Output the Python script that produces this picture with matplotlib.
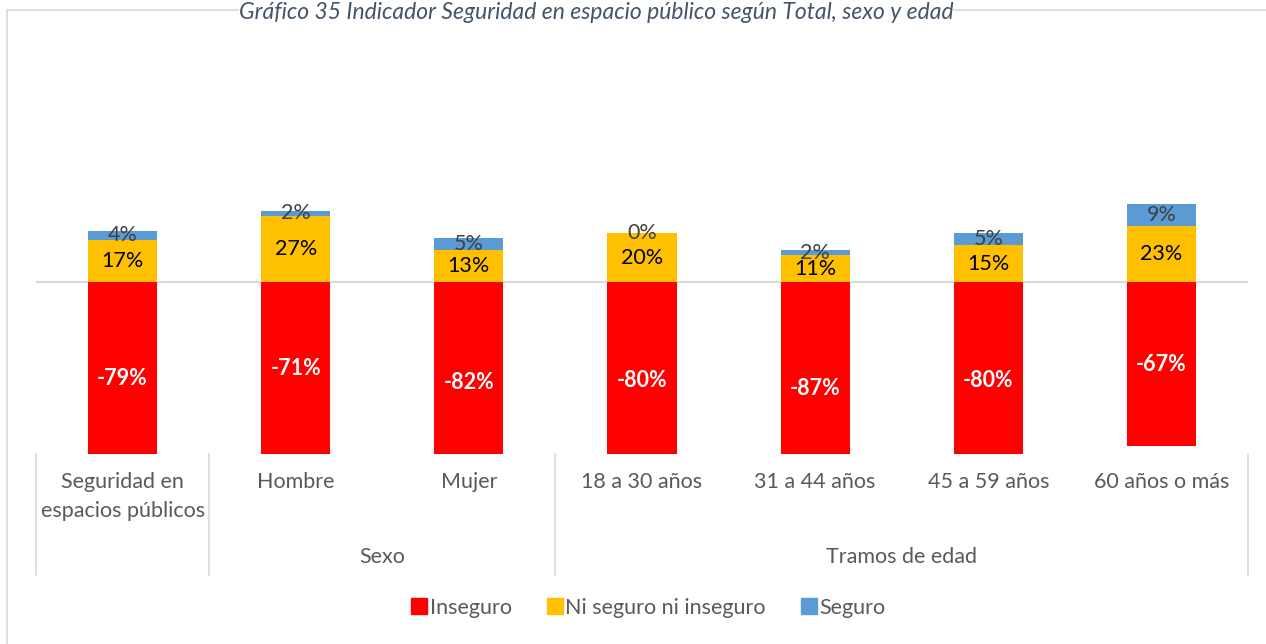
import numpy as np
import matplotlib.pyplot as plt
from matplotlib.patches import Rectangle
from matplotlib.lines import Line2D

plt.rcParams['font.family'] = ['Lato', 'DejaVu Sans']

categories = ['Seguridad en\nespacios públicos', 'Hombre', 'Mujer',
              '18 a 30 años', '31 a 44 años', '45 a 59 años', '60 años o más']
inseguro = [-79, -71, -82, -80, -87, -80, -67]
ni_seguro = [17, 27, 13, 20, 11, 15, 23]
seguro = [4, 2, 5, 0, 2, 5, 9]
groups = ['Sexo', 'Tramos de edad']
group_spans = [(1, 2), (3, 6)]

W, H = 1266, 644
fig = plt.figure(figsize=(W / 100, H / 100), dpi=100)

def fx(px):
    return px / W

def fy(py):
    return 1 - py / H

# chart border
fig.patches.append(Rectangle((fx(7), fy(650)), fx(1275) - fx(7), fy(10) - fy(650),
                             transform=fig.transFigure, fill=False,
                             edgecolor='#d9d9d9', linewidth=1.2))

fig.text(fx(596), fy(2), 'Gráfico 35 Indicador Seguridad en espacio público según Total, sexo y edad',
         ha='center', va='top', fontsize=16.5, style='italic', color='#44546a',
         bbox=dict(facecolor='white', edgecolor='none', pad=0))

ax = fig.add_axes([fx(36), fy(454), fx(1248) - fx(36), fy(40) - fy(454)])
x = np.arange(len(categories))
w = 0.4
red, yellow, blue = '#ff0000', '#ffc000', '#5b9bd5'
ax.bar(x, inseguro, w, color=red, label='Inseguro')
ax.bar(x, ni_seguro, w, color=yellow, label='Ni seguro ni inseguro')
ax.bar(x, seguro, w, bottom=ni_seguro, color=blue, label='Seguro')
ax.axhline(0, color='#d9d9d9', linewidth=1.5, zorder=0.5)
ax.set_xlim(-0.5, len(categories) - 0.5)
ax.set_ylim(-70.2, 98.8)
for s in ax.spines.values():
    s.set_visible(False)
ax.set_xticks([])
ax.set_yticks([])

for i in range(len(categories)):
    ax.text(x[i], inseguro[i] / 2, f'{inseguro[i]}%', ha='center', va='center',
            color='white', fontweight='bold', fontsize=15.5)
    ax.text(x[i], ni_seguro[i] / 2, f'{ni_seguro[i]}%', ha='center', va='center',
            color='black', fontsize=15.5)
    ax.text(x[i], ni_seguro[i] + seguro[i] / 2, f'{seguro[i]}%', ha='center', va='center',
            color='#404040', fontsize=15.5)

# multi-level category axis
cat_w = (1248 - 36) / len(categories)
for i, c in enumerate(categories):
    fig.text(fx(36 + cat_w * (i + 0.5)), fy(472), c, ha='center', va='top',
             fontsize=15.5, color='#595959', linespacing=1.55)
for px in [36, 36 + cat_w, 36 + cat_w * 3, 1248]:
    fig.add_artist(Line2D([fx(px), fx(px)], [fy(454), fy(575)], color='#d9d9d9', linewidth=1.2))
for g, (a, b) in zip(groups, group_spans):
    cx = 36 + cat_w * (a + b + 1) / 2
    fig.text(fx(cx), fy(557), g, ha='center', va='center', fontsize=15.5, color='#595959')

handles, labels = ax.get_legend_handles_labels()
handles = [Line2D([], [], marker='s', linestyle='', markersize=12, color=c) for c in [red, yellow, blue]]
fig.legend(handles, labels, loc='center', bbox_to_anchor=(fx(648), fy(608)), ncol=3,
           frameon=False, fontsize=15.5, handletextpad=0.1, columnspacing=1.6,
           labelcolor='#595959', handlelength=0.8)

fig.savefig('out.png', dpi=100)
